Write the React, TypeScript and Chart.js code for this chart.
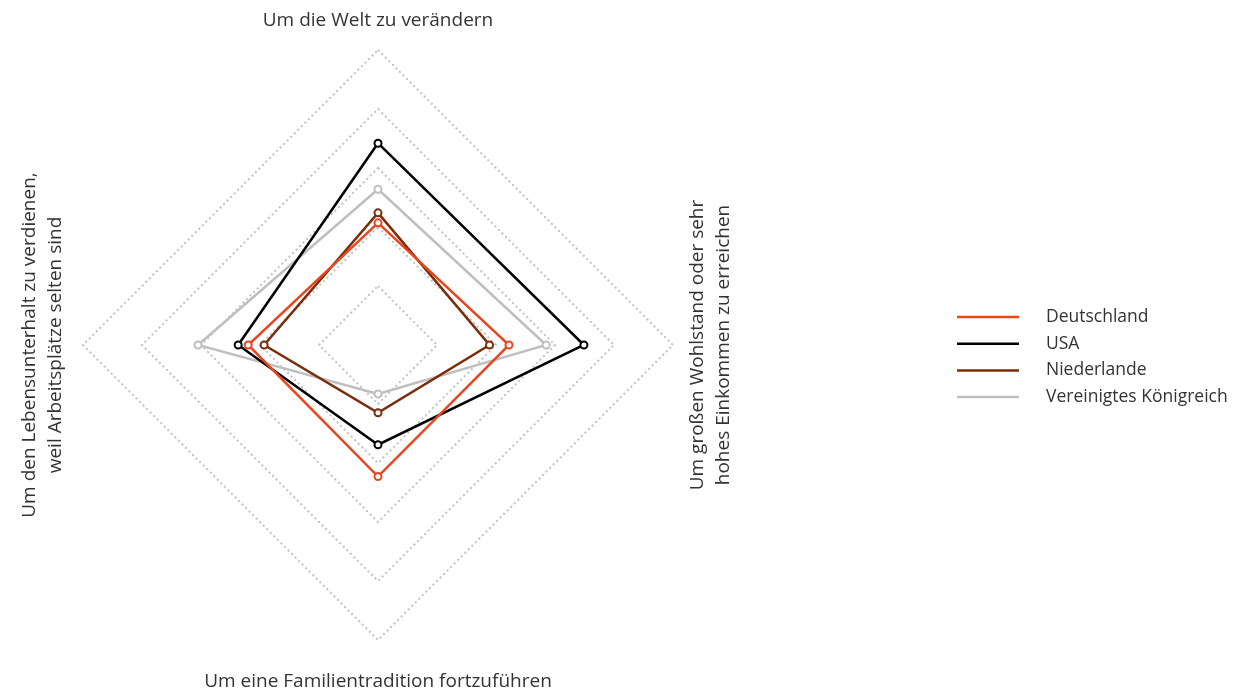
import React, { useEffect, useRef } from 'react';
import { Chart, registerables } from 'chart.js';

Chart.register(...registerables);

const categories: string[][] = [
  ['Um die Welt zu verändern'],
  ['Um großen Wohlstand oder sehr', 'hohes Einkommen zu erreichen'],
  ['Um eine Familientradition fortzuführen'],
  ['Um den Lebensunterhalt zu verdienen,', 'weil Arbeitsplätze selten sind'],
];
const seriesNames = ['Deutschland', 'USA', 'Niederlande', 'Vereinigtes Königreich'];
const deutschland = [20.7, 22.2, 22.3, 22.0];
const usa = [34.2, 34.9, 16.9, 23.7];
const niederlande = [22.4, 18.9, 11.5, 19.3];
const vereinigtesKoenigreich = [26.4, 28.5, 8.3, 30.5];
const seriesColors = ['#e8461e', '#000000', '#7b2c0a', '#bfbfbf'];
const scaleMin = 0;
const scaleMax = 50;
const scaleStep = 10;

const FONT = '"Open Sans", sans-serif';
const TEXT_COLOR = '#333333';

const labelPlugin = {
  id: 'rotatedPointLabels',
  afterDraw(chart: any) {
    const scale = chart.scales.r;
    const ctx = chart.ctx;
    const offsets = [29, 38, 42, 40];
    const rotations = [0, -Math.PI / 2, 0, -Math.PI / 2];
    const lineHeight = 26;
    ctx.save();
    ctx.fillStyle = TEXT_COLOR;
    ctx.font = `19px ${FONT}`;
    ctx.textAlign = 'center';
    ctx.textBaseline = 'middle';
    categories.forEach((lines, i) => {
      const p = scale.getPointPosition(i, scale.drawingArea + offsets[i]);
      ctx.save();
      ctx.translate(p.x, p.y);
      ctx.rotate(rotations[i]);
      lines.forEach((line, j) => {
        ctx.fillText(line, 0, (j - (lines.length - 1) / 2) * lineHeight);
      });
      ctx.restore();
    });
    ctx.restore();
  },
};

const legendPlugin = {
  id: 'sideLegend',
  afterDraw(chart: any) {
    const ctx = chart.ctx;
    const x0 = 957;
    const lineLen = 62;
    const textX = 1046;
    const y0 = 317;
    const rowH = 26.7;
    ctx.save();
    ctx.font = `17.5px ${FONT}`;
    ctx.textAlign = 'left';
    ctx.textBaseline = 'middle';
    chart.data.datasets.forEach((ds: any, i: number) => {
      const y = y0 + i * rowH;
      ctx.strokeStyle = ds.borderColor;
      ctx.lineWidth = 2.5;
      ctx.beginPath();
      ctx.moveTo(x0, y);
      ctx.lineTo(x0 + lineLen, y);
      ctx.stroke();
      ctx.fillStyle = TEXT_COLOR;
      ctx.fillText(ds.label, textX, y);
    });
    ctx.restore();
  },
};

export default function App() {
  const canvasRef = useRef<HTMLCanvasElement | null>(null);

  useEffect(() => {
    if (!canvasRef.current) return;
    const seriesData = [deutschland, usa, niederlande, vereinigtesKoenigreich];
    const chart = new Chart(canvasRef.current, {
      type: 'radar',
      data: {
        labels: categories.map((c) => c.join(' ')),
        datasets: seriesNames.map((name, i) => ({
          label: name,
          data: seriesData[i],
          borderColor: seriesColors[i],
          backgroundColor: 'transparent',
          borderWidth: 2.5,
          fill: false,
          pointRadius: 3.5,
          pointBorderWidth: 2,
          pointBackgroundColor: '#ffffff',
          pointBorderColor: seriesColors[i],
          pointHoverRadius: 3.5,
        })),
      },
      options: {
        animation: false,
        responsive: false,
        maintainAspectRatio: false,
        layout: { padding: { left: 83, right: 564, top: 50, bottom: 56 } },
        plugins: {
          legend: { display: false },
          tooltip: { enabled: false },
        },
        elements: { line: { tension: 0 } },
        scales: {
          r: {
            min: scaleMin,
            max: scaleMax,
            ticks: { display: false, stepSize: scaleStep },
            pointLabels: { display: false },
            angleLines: { display: false },
            grid: {
              color: '#c2c2c2',
              lineWidth: 2,
            } as any,
            border: { dash: [2, 3] } as any,
          },
        },
      },
      plugins: [labelPlugin, legendPlugin],
    });
    return () => chart.destroy();
  }, []);

  return (
    <div style={{ position: 'fixed', left: 0, top: 0, width: 1237, height: 696, background: '#ffffff' }}>
      <canvas ref={canvasRef} width={1237} height={696} style={{ width: 1237, height: 696 }} />
    </div>
  );
}
